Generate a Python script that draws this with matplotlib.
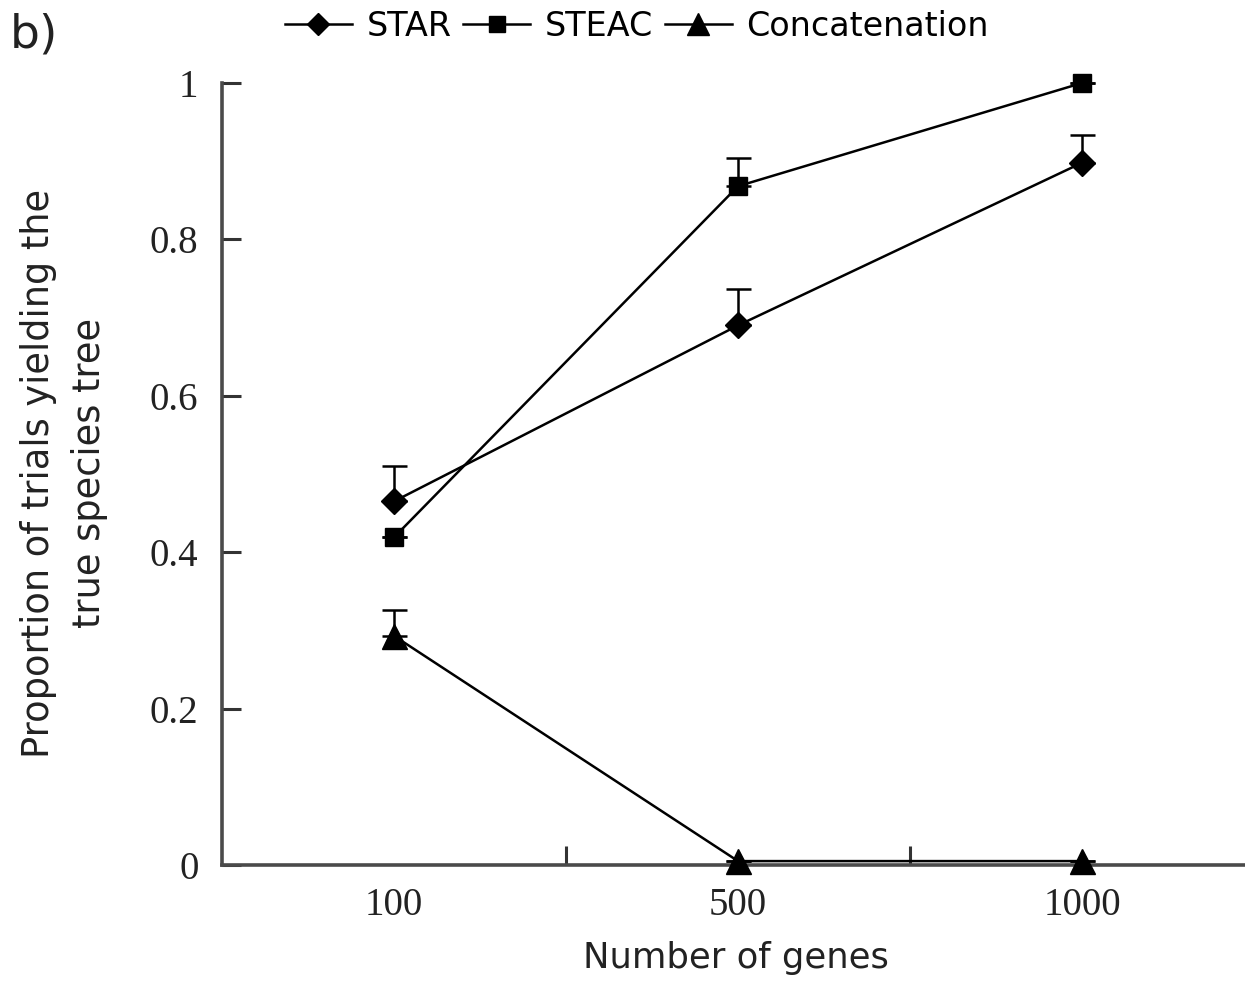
import matplotlib
matplotlib.use("Agg")
import matplotlib.pyplot as plt
from matplotlib.lines import Line2D

# Data
genes = ["100", "500", "1000"]
star = [0.465, 0.690, 0.898]
star_err = [0.045, 0.047, 0.035]
steac = [0.419, 0.868, 1.000]
steac_err = [0.0, 0.036, 0.0]
concat = [0.293, 0.005, 0.005]
concat_err = [0.033, 0.0, 0.0]

W, H = 1245, 983
fig = plt.figure(figsize=(W / 100, H / 100), dpi=100)
ax = fig.add_axes([222 / W, 118 / H, 1032 / W, 782 / H])

xpos = [0.5, 1.5, 2.5]
series = [
    ("STAR", star, star_err, "D", 13),
    ("STEAC", steac, steac_err, "s", 13),
    ("Concatenation", concat, concat_err, "^", 18),
]
handles = []
for name, vals, err, mk, ms in series:
    ax.errorbar(xpos, vals, yerr=[[0] * len(err), err], color="black",
                lw=1.8, marker=mk, ms=ms, mfc="black", mec="black",
                capsize=9, capthick=1.8, elinewidth=1.8, clip_on=False,
                zorder=3)
    handles.append(Line2D([], [], color="black", lw=1.8, marker=mk,
                          ms=ms * 0.85, mfc="black", mec="black"))

ax.set_xlim(0, 3)
ax.set_ylim(0, 1)

for side in ("top", "right"):
    ax.spines[side].set_visible(False)
for side in ("left", "bottom"):
    ax.spines[side].set_color("#4a4a4a")
    ax.spines[side].set_linewidth(2.6)

ax.set_yticks([0, 0.2, 0.4, 0.6, 0.8, 1.0])
ax.set_yticklabels(["0", "0.2", "0.4", "0.6", "0.8", "1"])
ax.tick_params(axis="y", direction="in", length=14, width=2.2,
               color="#333333", pad=17)

ax.set_xticks([1, 2])
ax.set_xticklabels([])
ax.set_xticks(xpos, minor=True)
ax.set_xticklabels(genes, minor=True)
ax.tick_params(axis="x", which="major", direction="in", length=14,
               width=2.2, color="#333333")
ax.tick_params(axis="x", which="minor", length=0, pad=16)

for lab in ax.get_yticklabels() + ax.get_xticklabels(minor=True):
    lab.set_fontfamily("Liberation Serif")
    lab.set_fontsize(28)
    lab.set_color("#222222")

fig.text(736 / W, 1 - 968 / H, "Number of genes", fontsize=25.5,
         family="DejaVu Sans", color="#222222", ha="center", va="baseline")
fig.text(64 / W, 1 - 473 / H,
         "Proportion of trials yielding the\ntrue species tree",
         fontsize=26.5, family="DejaVu Sans", color="#222222",
         rotation=90, ha="center", va="center", multialignment="center",
         linespacing=1.45)

fig.legend(handles, [s[0] for s in series], loc="center",
           bbox_to_anchor=(637 / W, 1 - 26 / H), ncol=3, frameon=False,
           handlelength=2.0, handletextpad=0.45, columnspacing=0.35,
           prop={"family": "DejaVu Sans", "size": 24})

fig.text(10 / W, 1 - 35 / H, "b)", fontsize=34, family="DejaVu Sans",
         va="center", ha="left", color="#222222")

fig.savefig("out.png", dpi=100)
